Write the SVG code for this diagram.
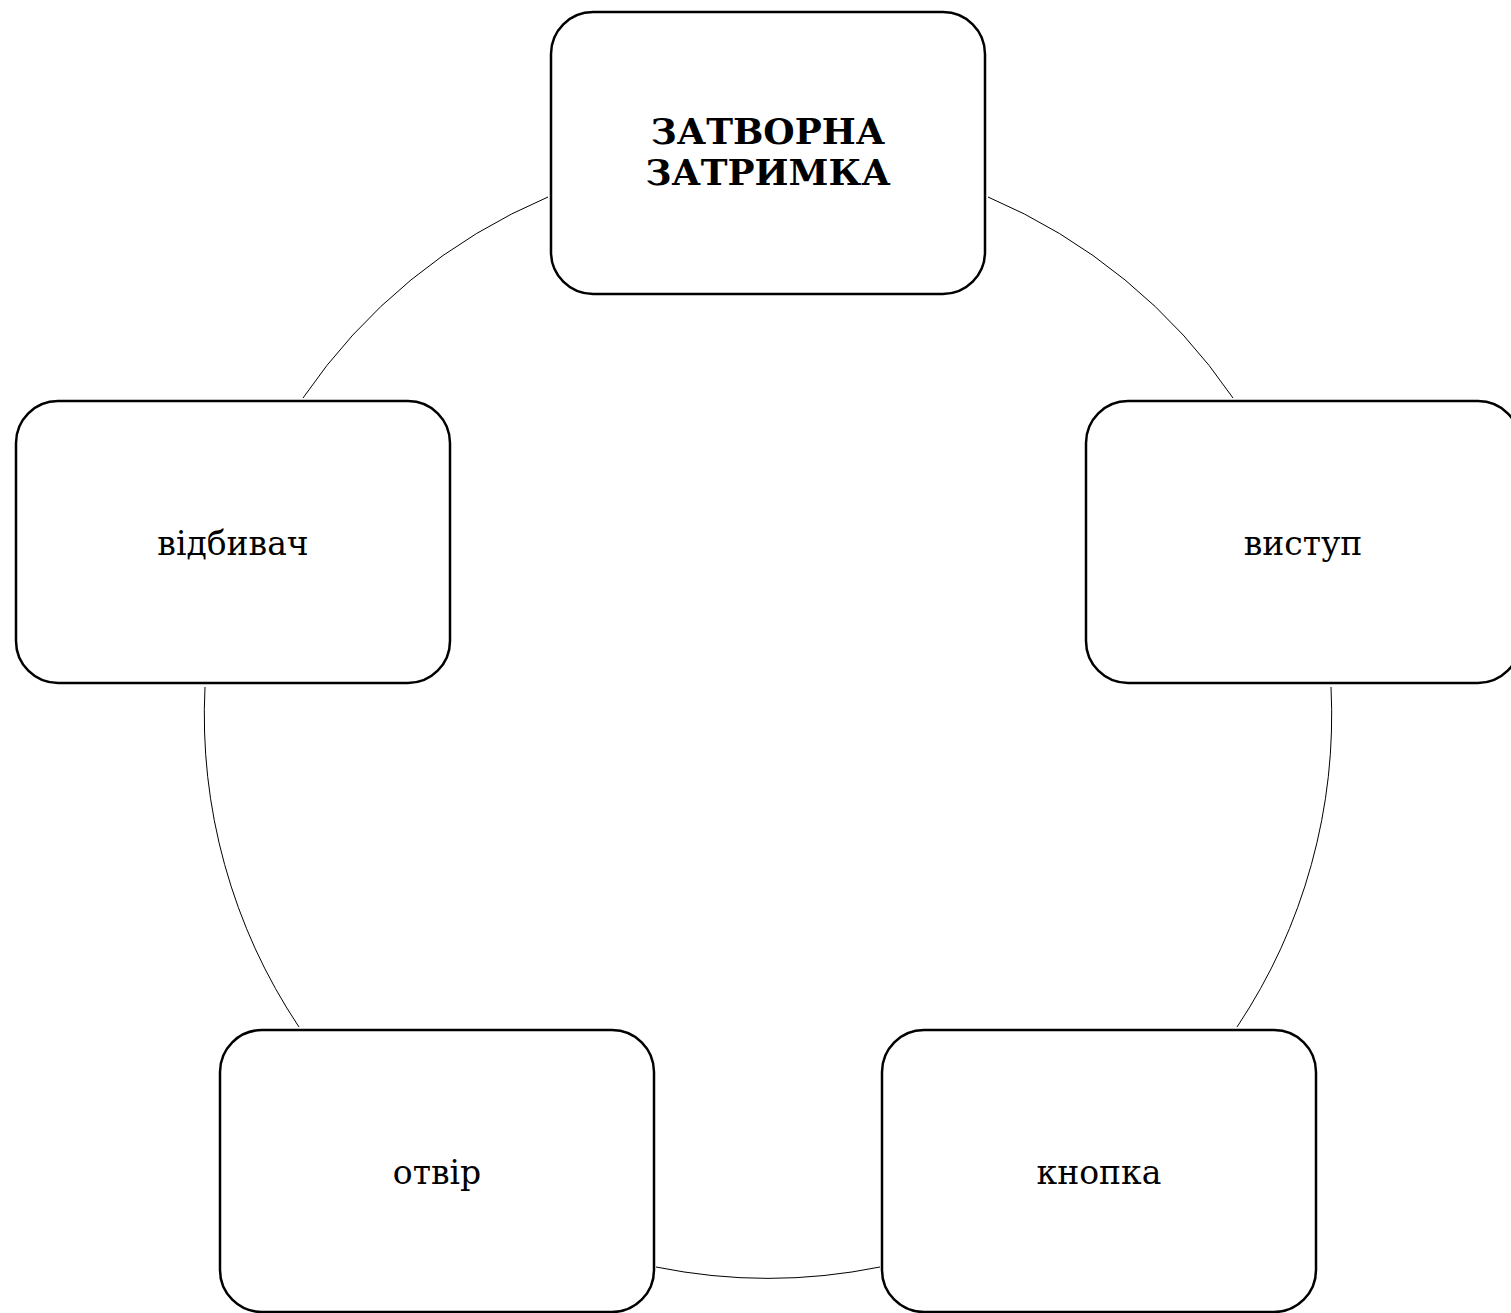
<svg xmlns="http://www.w3.org/2000/svg" width="1511" height="1313" viewBox="0 0 1511 1313">
<style>
.box{fill:#fff;stroke:#000;stroke-width:2.5}
.arc{fill:none;stroke:#000;stroke-width:1}
text{font-family:"DejaVu Serif","Liberation Serif",serif;font-size:33px;fill:#000;text-anchor:middle}
.b{font-weight:bold;font-size:36px}
</style>
<rect width="1511" height="1313" fill="#fff"/>
<g id="connectors">
<path class="arc" d="M303,398 A562,562 0 0 1 548,197"/>
<path class="arc" d="M988,197 A562,562 0 0 1 1233,398"/>
<path class="arc" d="M1331,687 A562,562 0 0 1 1237,1027"/>
<path class="arc" d="M880,1267 A562,562 0 0 1 656,1267"/>
<path class="arc" d="M299,1027 A562,562 0 0 1 205,687"/>
</g>
<g id="n1"><rect class="box" x="551" y="12" width="434" height="282" rx="42"/><text class="b" x="768" y="144">ЗАТВОРНА</text><text class="b" x="768" y="185">ЗАТРИМКА</text></g>
<g id="n2"><rect class="box" x="1086" y="401" width="434" height="282" rx="42"/><text x="1303" y="555">виступ</text></g>
<g id="n3"><rect class="box" x="882" y="1030" width="434" height="282" rx="42"/><text x="1099" y="1184">кнопка</text></g>
<g id="n4"><rect class="box" x="220" y="1030" width="434" height="282" rx="42"/><text x="437" y="1184">отвір</text></g>
<g id="n5"><rect class="box" x="16" y="401" width="434" height="282" rx="42"/><text x="233" y="555">відбивач</text></g>
</svg>
